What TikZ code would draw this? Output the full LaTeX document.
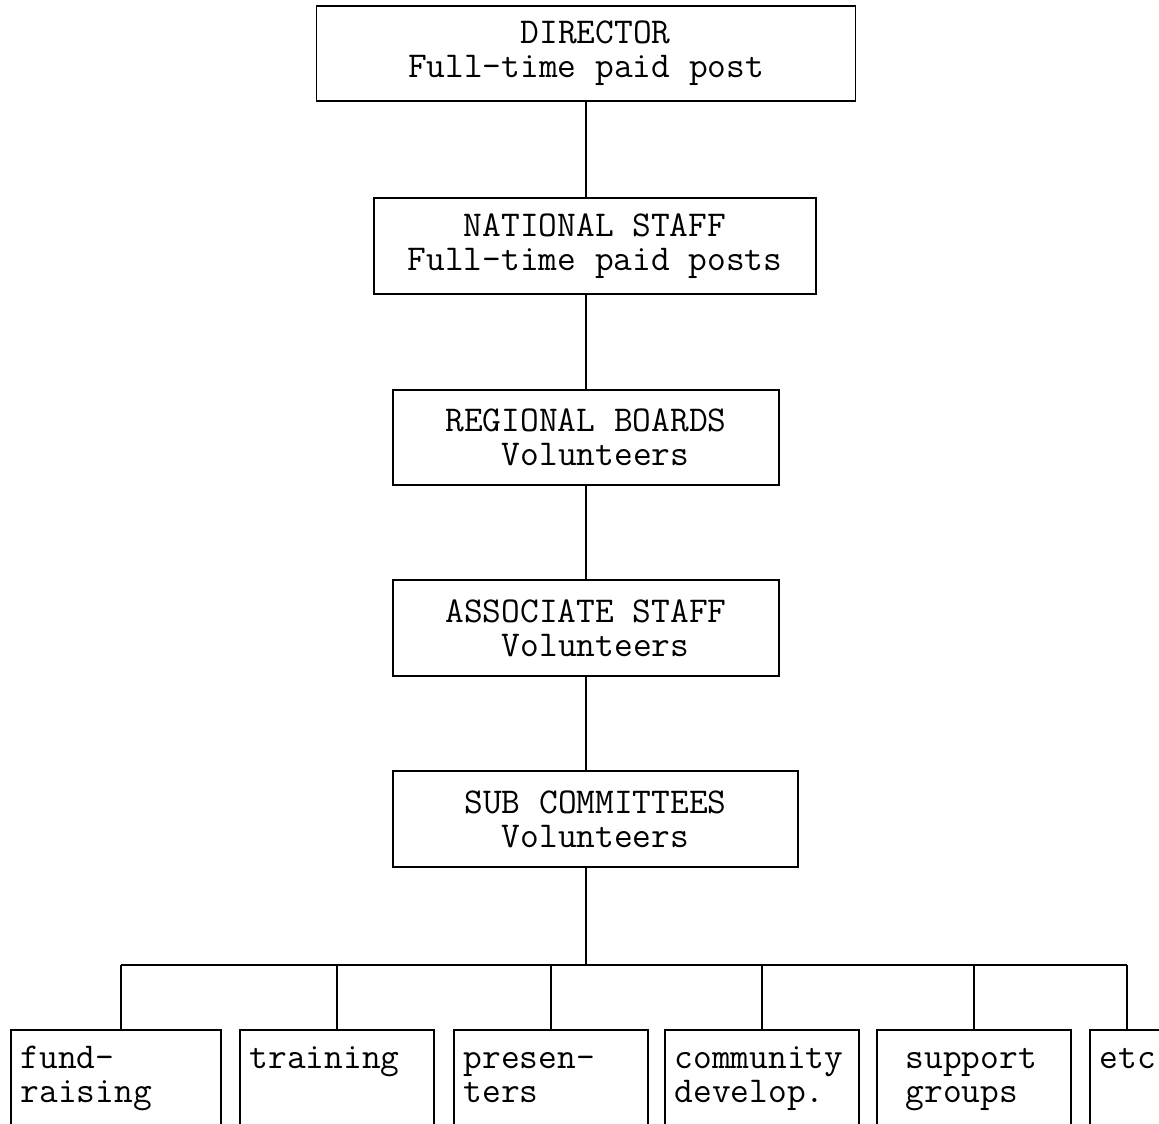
\documentclass[tikz,border=0pt]{standalone}
\usepackage{fontspec}
\usepackage{tikz}
\newcommand\pad{\hspace*{0.525em}}
\tikzstyle{rankbox} = [draw=black, line width=0.9pt, rectangle, inner sep=0pt, align=center, minimum height=1.91cm, font=\ttfamily\fontsize{20.7}{19.5}\selectfont]
\tikzstyle{taskbox} = [draw=black, line width=0.9pt, rectangle, anchor=north west, align=left, inner xsep=0.2cm, inner ysep=7pt, text width=3.48cm, text depth=2cm, execute at begin node={\rule{0pt}{15pt}}, font=\ttfamily\fontsize{20.7}{19.5}\selectfont]
\tikzstyle{link} = [draw=black, line width=0.9pt]

\begin{document}
\begin{tikzpicture}[x=0.02cm, y=-0.02cm]
	\useasboundingbox (0,0) rectangle (1159,1123);
	\clip (0,0) rectangle (1159,1123);
	% chain of ranks
	\node [rankbox, minimum width=10.78cm] (dir) at (586,53.5) {\pad DIRECTOR\\Full-time paid post};
	\node [rankbox, minimum width=8.84cm] (nat) at (595,246) {NATIONAL STAFF\\Full-time paid posts};
	\node [rankbox, minimum width=7.72cm] (reg) at (586,437.5) {REGIONAL BOARDS\\\pad Volunteers};
	\node [rankbox, minimum width=7.72cm] (asc) at (586,628) {ASSOCIATE STAFF\\\pad Volunteers};
	\node [rankbox, minimum width=8.1cm] (sub) at (595.5,819) {SUB COMMITTEES\\Volunteers};
	% sub committee tasks
	\node [taskbox, text width=3.8cm] (fund) at (10,1029) {fund-\\raising};
	\node [taskbox] (train) at (239,1029) {training};
	\node [taskbox] (pres) at (453,1029) {presen-\\ters};
	\node [taskbox] (comm) at (664,1029) {community\\develop.};
	\node [taskbox] (supp) at (876,1029) {\hspace*{0.38cm}support\\\hspace*{0.38cm}groups};
	\node [taskbox] (etc) at (1089,1029) {etc};
	\coordinate (busL) at (121,965);
	\coordinate (busR) at (1127,965);
	% connectors
	\draw [link] (dir.south) -- (dir.south |- nat.north);
	\draw [link] (reg.north |- nat.south) -- (reg.north);
	\draw [link] (reg.south) -- (asc.north);
	\draw [link] (asc.south) -- (asc.south |- sub.north);
	\draw [link] (asc.south |- sub.south) -- (asc.south |- busL);
	\draw [link] (busL) -- (busR);
	\draw [link] (busL) -- (busL |- fund.north);
	\draw [link] (busL -| train.north) -- (train.north);
	\draw [link] (busL -| pres.north) -- (pres.north);
	\draw [link] (busL -| comm.north) -- (comm.north);
	\draw [link] (busL -| supp.north) -- (supp.north);
	\draw [link] (busR) -- (busR |- etc.north);
\end{tikzpicture}
\end{document}
